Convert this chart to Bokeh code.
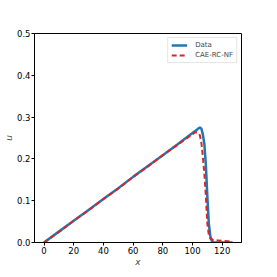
from bokeh.plotting import figure
from bokeh.models import Range1d, FixedTicker, Legend, LegendItem, CustomJSTickFormatter
from bokeh.embed import file_html
from bokeh.resources import INLINE

# Data
data_x = [0, 10, 20, 30, 40, 50, 60, 70, 80, 90, 100, 103, 104, 105, 106, 107, 108, 109, 110, 111, 112, 113, 114, 120, 127]
data_u = [0.0, 0.026, 0.052, 0.078, 0.104, 0.130, 0.157, 0.183, 0.209, 0.235, 0.262, 0.270, 0.273, 0.275, 0.272, 0.258, 0.235, 0.185, 0.110, 0.045, 0.015, 0.004, 0.0, 0.0, 0.0]

model_x = [0, 10, 20, 30, 40, 50, 60, 70, 80, 90, 100, 102, 104, 105, 106, 107, 108, 109, 110, 111, 112, 114, 117, 120, 124, 127]
model_u = [0.0, 0.025, 0.052, 0.077, 0.104, 0.129, 0.157, 0.182, 0.209, 0.234, 0.259, 0.264, 0.262, 0.256, 0.238, 0.205, 0.164, 0.110, 0.045, 0.018, 0.009, 0.006, 0.005, 0.004, 0.003, 0.001]

x_ticks = [0, 20, 40, 60, 80, 100, 120]
y_ticks = [0.0, 0.1, 0.2, 0.3, 0.4, 0.5]
labels = ["Data", "CAE-RC-NF"]

FONT = "DejaVu Sans"

p = figure(width=261, height=269, output_backend="svg", toolbar_location=None,
           x_range=Range1d(-6.4, 133.0), y_range=Range1d(0, 0.5),
           min_border_left=20, min_border_right=20, min_border_top=33, min_border_bottom=10)

p.grid.visible = False
p.outline_line_color = "black"
p.outline_line_width = 1
p.background_fill_color = "white"
p.border_fill_color = "white"

r1 = p.line(data_x, data_u, line_color="#1f77b4", line_width=2.5)
r2 = p.line(model_x, model_u, line_color="#d62728", line_width=2, line_dash="5 3")

for ax in (p.xaxis[0], p.yaxis[0]):
    ax.major_label_text_font = FONT
    ax.major_label_text_font_size = "8.5px"
    ax.major_label_text_color = "black"
    ax.axis_label_text_font = FONT
    ax.axis_label_text_font_size = "9px"
    ax.axis_label_text_font_style = "italic"
    ax.axis_label_standoff = 0
    ax.major_label_standoff = 1
    ax.major_tick_out = 3
    ax.major_tick_in = 0
    ax.minor_tick_line_color = None
    ax.axis_line_color = "black"
    ax.major_tick_line_color = "black"

p.xaxis[0].ticker = FixedTicker(ticks=x_ticks)
p.yaxis[0].ticker = FixedTicker(ticks=y_ticks)
p.xaxis[0].axis_label = "x"
p.yaxis[0].axis_label = "u"
p.yaxis[0].formatter = CustomJSTickFormatter(code="return tick.toFixed(1);")

legend = Legend(items=[LegendItem(label=labels[0], renderers=[r1]),
                       LegendItem(label=labels[1], renderers=[r2])],
                location="top_right")
legend.label_text_font = FONT
legend.label_text_font_size = "7px"
legend.label_height = 8
legend.glyph_height = 8
legend.glyph_width = 16
legend.label_standoff = 8
legend.spacing = 2
legend.padding = 3
legend.margin = 4
legend.border_line_color = "#cccccc"
legend.border_line_width = 1
p.add_layout(legend)

open("out.html", "w").write(file_html(p, INLINE))
